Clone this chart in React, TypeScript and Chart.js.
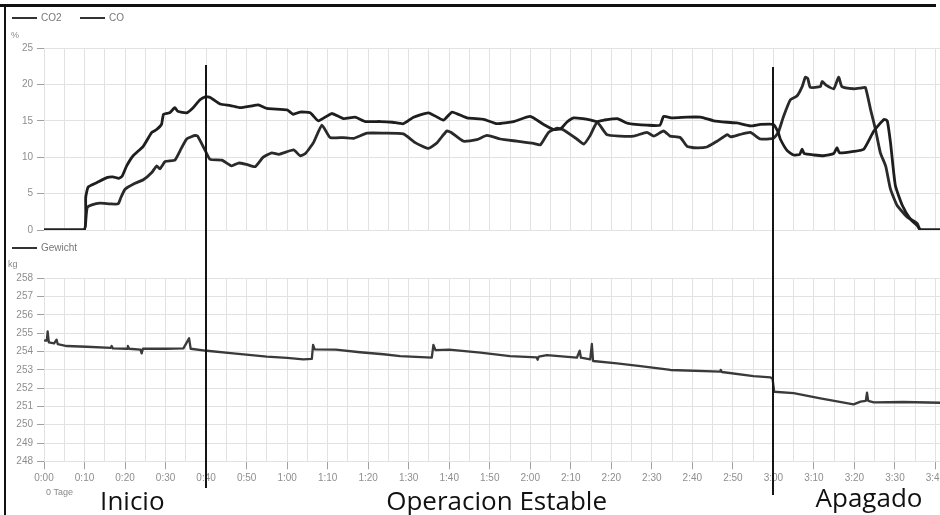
import React, { useEffect, useRef } from 'react';
import { Chart, registerables } from 'chart.js';

Chart.register(...registerables);

// ---------- data ----------
const gasLabels = ['CO2', 'CO'];
const weightLabel = 'Gewicht';
const gasUnit = '%';
const weightUnit = 'kg';
const dayLabel = '0 Tage';

// [minutes since start, value %]
const co2Series: [number, number][] = [
  [0, 0], [9.9, 0], [10.3, 4.5], [10.9, 5.9], [13, 6.5], [15.5, 7.2], [17, 7.3], [18.5, 7.1], [19.3, 7.4],
  [20.4, 8.8], [22, 10.2], [24.5, 11.5], [26.6, 13.4], [27.8, 13.8], [29, 14.5], [29.5, 15.9], [31, 16.1],
  [32.3, 16.8], [33, 16.3], [35.2, 16.1], [36.8, 16.8], [38.5, 17.9], [39.8, 18.3], [41, 18.2], [43.5, 17.3],
  [46, 17.1], [48.4, 16.8], [50.9, 17.0], [52.9, 17.2], [55, 16.7], [60, 16.5], [61.5, 15.9], [63.2, 16.2],
  [65.7, 16.1], [67.7, 15.0], [71, 16.0], [73.9, 15.3], [76.8, 15.5], [79.3, 14.9], [83, 14.9], [86, 14.8],
  [88.7, 14.6], [91.2, 15.5], [94.9, 16.1], [98.6, 15.1], [100.7, 16.2], [104.4, 15.4], [108.5, 15.2],
  [111.8, 14.6], [115.9, 14.9], [120, 15.6], [123.3, 14.5], [125.8, 13.8], [127.5, 13.9], [129, 14.8],
  [130.7, 15.4], [133, 15.3], [135, 15.1], [136.5, 14.9], [138.2, 15.1], [141.5, 15.3], [143.8, 14.7],
  [146, 14.5], [148.8, 14.4], [152, 14.4], [152.9, 15.6], [155, 15.4], [158.7, 15.5], [162, 15.5],
  [165.3, 15.0], [168.6, 14.8], [171, 14.7], [174.3, 14.3], [176.8, 14.5], [180, 14.5], [181.2, 13.4],
  [181.7, 12.5], [183.4, 10.9], [185, 10.3], [186.5, 10.4], [187.1, 11.1], [187.6, 10.5], [190, 10.3],
  [192.4, 10.2], [194.9, 10.5], [195.7, 11.3], [196.3, 10.6], [199.8, 10.8], [202.3, 11.1], [204.8, 13.6],
  [207.3, 15.2], [208.1, 15.0], [208.9, 12.0], [210.1, 6.1], [211.8, 3.4], [213.8, 1.5], [215.5, 0.6],
  [216.3, 0], [230, 0],
];

const coSeries: [number, number][] = [
  [0, 0], [9.9, 0], [10.4, 2.0], [10.7, 3.1], [11.8, 3.45], [13.8, 3.7], [16.3, 3.6], [18.3, 3.6], [19, 4.5],
  [20, 5.6], [22, 6.3], [24.5, 6.9], [26.6, 7.9], [27.8, 8.8], [28.6, 8.4], [29.9, 9.4], [32.3, 9.6],
  [33.6, 10.9], [35.2, 12.5], [37.3, 13.0], [37.9, 12.9], [39.8, 10.9], [41, 9.7], [43.9, 9.6], [46.3, 8.8],
  [48, 9.2], [50, 9.0], [52.1, 8.7], [54.1, 10.0], [56.2, 10.6], [58, 10.4], [61.6, 11.0], [63.2, 10.2],
  [64.5, 10.5], [66.5, 12.0], [68.6, 14.4], [70.6, 12.7], [73.9, 12.7], [76.5, 12.6], [79.7, 13.3],
  [83.8, 13.3], [88.7, 13.2], [91.6, 12.0], [94.9, 11.2], [97, 12.0], [99.4, 13.6], [100.5, 13.4],
  [103.5, 12.2], [106.8, 12.4], [109.3, 13.0], [112.6, 12.5], [116.7, 12.2], [120.8, 11.9], [122.5, 11.7],
  [124.5, 13.4], [126.6, 14.0], [128, 13.8], [131.5, 12.5], [133.2, 11.8], [134.8, 13.0], [136.5, 14.8],
  [138.9, 13.1], [142.2, 12.9], [145.5, 12.9], [148.8, 13.4], [150.5, 12.9], [152.9, 13.6], [154.5, 12.9],
  [157, 12.7], [158.7, 11.5], [160.3, 11.3], [163.6, 11.4], [166.1, 12.2], [168.6, 13.1], [169.5, 12.8],
  [171.6, 13.1], [174.3, 13.4], [176.8, 12.5], [180, 12.6], [181.2, 13.4], [182.5, 15.6], [184.2, 17.9],
  [185.8, 18.4], [187.1, 19.7], [187.9, 21.0], [188.5, 20.8], [189.1, 19.6], [191.6, 19.7], [192, 20.4],
  [193, 19.9], [194.9, 19.4], [196.1, 21.0], [196.9, 19.7], [199.8, 19.4], [201.5, 19.5], [202.7, 19.6],
  [204, 16.5], [205.2, 13.8], [206.4, 10.6], [207.7, 8.8], [208.9, 5.6], [210.5, 3.4], [213, 1.8],
  [215.5, 0.9], [216.3, 0], [230, 0],
];

// [minutes since start, weight kg]
const weightSeries: [number, number][] = [
  [0.25, 254.6], [0.7, 254.6], [0.9, 255.1], [1.2, 254.5], [2.5, 254.45], [3.1, 254.65], [3.4, 254.4],
  [5.6, 254.3], [10.5, 254.26], [16.5, 254.2], [16.7, 254.3], [17, 254.17], [20.5, 254.15], [20.7, 254.3],
  [21, 254.15], [23.8, 254.1], [24.1, 253.9], [24.4, 254.15], [30, 254.15], [34.4, 254.17], [35.8, 254.72],
  [36.2, 254.15], [40.2, 254.04], [46.7, 253.9], [55, 253.72], [60, 253.65], [64, 253.57], [66.1, 253.6],
  [66.4, 254.36], [66.8, 254.12], [72, 254.1], [78, 253.96], [83.8, 253.85], [87.9, 253.75], [95.7, 253.66],
  [96.1, 254.36], [96.6, 254.08], [100, 254.1], [107.7, 253.94], [115, 253.75], [121.6, 253.68],
  [121.8, 253.55], [122.1, 253.72], [124.1, 253.8], [131.5, 253.66], [132.2, 254.04], [132.5, 253.66],
  [134.8, 253.57], [135.2, 254.41], [135.5, 253.48], [141.4, 253.35], [147.2, 253.2], [154.6, 252.99],
  [166.9, 252.9], [167, 253.0], [167.3, 252.88], [175.1, 252.66], [179.3, 252.59], [179.8, 252.5],
  [180.2, 251.8], [185, 251.72], [191.6, 251.44], [199.8, 251.11], [201.5, 251.26], [202.8, 251.3],
  [203.1, 251.75], [203.4, 251.3], [204.8, 251.22], [212, 251.24], [221.2, 251.2], [230, 251.2],
];

const timeRange = [0, 230];
const gasRange = [0, 25];
const gasStep = 5;
const weightRange = [248, 258];
const weightStep = 1;
const phaseMarkers = [40, 180];
const phaseNames = ['Inicio', 'Operacion Estable', 'Apagado'];
const phaseNameAt = [21.8, 111.7, 203.6];

// ---------- styling ----------
const FONT = "'Liberation Sans', Arial, sans-serif";
const GRID = '#e2e2e2';
const TICK = '#a0a0a0';
const LABEL = '#8e8e8e';
const W = 990;
const TOP_H = 240;
const BOT_H = 275;

const fmtTime = (v: number) =>
  `${Math.floor(v / 60)}:${String(Math.round(v % 60)).padStart(2, '0')}`;

const toXY = (s: [number, number][]) => s.map(([x, y]) => ({ x, y }));

function xScale(showLabels: boolean, height: number) {
  return {
    type: 'linear',
    min: timeRange[0],
    max: timeRange[1],
    border: { display: false },
    grid: {
      color: GRID,
      lineWidth: 1,
      drawTicks: showLabels,
      tickLength: 8,
      tickColor: (c: any) => (c.tick && c.tick.value % 10 === 0 ? TICK : 'rgba(0,0,0,0)'),
    },
    ticks: {
      display: showLabels,
      stepSize: 5,
      autoSkip: false,
      maxRotation: 0,
      padding: 3,
      color: LABEL,
      font: { family: FONT, size: 10 },
      callback: (v: any) => (Number(v) % 10 === 0 ? fmtTime(Number(v)) : ''),
    },
    afterFit: (s: any) => {
      s.height = height;
    },
  };
}

function yScale(range: number[], step: number) {
  return {
    type: 'linear',
    min: range[0],
    max: range[1],
    border: { display: false },
    grid: { color: GRID, lineWidth: 1, tickLength: 7, tickColor: TICK },
    ticks: { stepSize: step, padding: 4, color: LABEL, font: { family: FONT, size: 10 } },
    afterFit: (s: any) => {
      s.width = 44;
    },
  };
}

function drawLegend(ctx: CanvasRenderingContext2D, x: number, y: number, text: string) {
  ctx.strokeStyle = '#333';
  ctx.lineWidth = 2;
  ctx.beginPath();
  ctx.moveTo(x, y);
  ctx.lineTo(x + 25, y);
  ctx.stroke();
  ctx.fillStyle = '#777';
  ctx.font = `10px ${FONT}`;
  ctx.textAlign = 'left';
  ctx.textBaseline = 'middle';
  ctx.fillText(text, x + 29, y);
}

function drawMarkers(chart: any, tops: number[], bottoms: number[]) {
  const { ctx } = chart;
  const xs = chart.scales.x;
  ctx.strokeStyle = '#151515';
  ctx.lineWidth = 2;
  phaseMarkers.forEach((m, i) => {
    const px = Math.round(xs.getPixelForValue(m));
    ctx.beginPath();
    ctx.moveTo(px, tops[i]);
    ctx.lineTo(px, bottoms[i]);
    ctx.stroke();
  });
}

const topDecor = {
  id: 'topDecor',
  afterDraw(chart: any) {
    const { ctx } = chart;
    ctx.save();
    const legendX = [12, 80];
    chart.data.datasets.forEach((ds: any, i: number) => drawLegend(ctx, legendX[i], 18, ds.label));
    ctx.fillStyle = '#888';
    ctx.font = `9px ${FONT}`;
    ctx.textAlign = 'left';
    ctx.textBaseline = 'middle';
    ctx.fillText(gasUnit, 11, 36);
    drawMarkers(chart, [65, 67], [chart.height, chart.height]);
    ctx.restore();
  },
};

const bottomDecor = {
  id: 'bottomDecor',
  afterDraw(chart: any) {
    const { ctx } = chart;
    const xs = chart.scales.x;
    ctx.save();
    drawLegend(ctx, 12, 8, chart.data.datasets[0].label);
    ctx.fillStyle = '#888';
    ctx.font = `9px ${FONT}`;
    ctx.textAlign = 'left';
    ctx.textBaseline = 'middle';
    ctx.fillText(weightUnit, 8, 25);
    ctx.fillStyle = '#8a8a8a';
    ctx.font = `9px ${FONT}`;
    ctx.fillText(dayLabel, 46, 253);
    drawMarkers(chart, [0, 0], [248, 255]);
    ctx.fillStyle = '#111';
    ctx.font = `26px 'Open Sans', sans-serif`;
    ctx.textAlign = 'center';
    ctx.textBaseline = 'alphabetic';
    phaseNames.forEach((n, i) => {
      ctx.fillText(n, xs.getPixelForValue(phaseNameAt[i]), i === 2 ? 267 : 270);
    });
    ctx.restore();
  },
};

export default function App() {
  const topRef = useRef<HTMLCanvasElement>(null);
  const botRef = useRef<HTMLCanvasElement>(null);

  useEffect(() => {
    const common = {
      responsive: false,
      animation: false,
      events: [],
      plugins: { legend: { display: false }, tooltip: { enabled: false } },
    };
    const lineStyle = {
      pointRadius: 0,
      tension: 0.15,
      fill: false,
      borderJoinStyle: 'round',
      borderCapStyle: 'round',
    };
    const top = new Chart(topRef.current!, {
      type: 'line',
      data: {
        datasets: [
          { ...lineStyle, label: gasLabels[0], data: toXY(co2Series), borderColor: '#1e1e1e', borderWidth: 2.8 },
          { ...lineStyle, label: gasLabels[1], data: toXY(coSeries), borderColor: '#2a2a2a', borderWidth: 2.8 },
        ],
      } as any,
      options: {
        ...common,
        layout: { padding: { top: 48, bottom: 8.7, left: 0, right: 14 } },
        scales: { x: xScale(false, 0), y: yScale(gasRange, gasStep) },
      } as any,
      plugins: [topDecor],
    });
    const bot = new Chart(botRef.current!, {
      type: 'line',
      data: {
        datasets: [
          { ...lineStyle, tension: 0, label: weightLabel, data: toXY(weightSeries), borderColor: '#3a3a3a', borderWidth: 2.3 },
        ],
      } as any,
      options: {
        ...common,
        layout: { padding: { top: 38.3, bottom: 0, left: 0, right: 14 } },
        scales: { x: xScale(true, BOT_H - 221.3), y: yScale(weightRange, weightStep) },
      } as any,
      plugins: [bottomDecor],
    });
    return () => {
      top.destroy();
      bot.destroy();
    };
  }, []);

  return (
    <div
      style={{
        position: 'absolute',
        left: 0,
        top: 0,
        width: 940,
        height: 515,
        overflow: 'hidden',
        background: '#fff',
      }}
    >
      <canvas ref={topRef} width={W} height={TOP_H} style={{ position: 'absolute', left: 0, top: 0 }} />
      <canvas ref={botRef} width={W} height={BOT_H} style={{ position: 'absolute', left: 0, top: TOP_H }} />
      <div style={{ position: 'absolute', left: 0, top: 4, width: 936, height: 3, background: '#111' }} />
      <div style={{ position: 'absolute', left: 4, top: 4, width: 2, height: 511, background: '#111' }} />
    </div>
  );
}
